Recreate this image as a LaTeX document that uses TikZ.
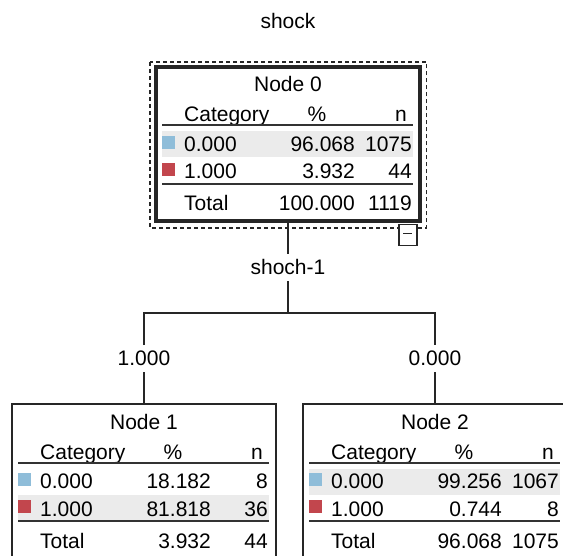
\documentclass[tikz,border=0pt]{standalone}
\usepackage{fontspec}
\setmainfont{Liberation Sans}
\usetikzlibrary{positioning,calc}

\definecolor{catblue}{HTML}{8FBDD9}
\definecolor{catred}{HTML}{C2464D}
\definecolor{rowgray}{HTML}{EBEBEB}

% box name, title, shaded band, two category rows, total row
\newcommand{\nodetable}[9]{%
  \begin{scope}[shift={(#1.north west)}]
    \fill[rowgray] (6,#3) rectangle +(251,26);
    \node[txt, anchor=base] (#1-title) at (132,25) {#2};
    \node[txt, anchor=base west] (#1-cat) at (28,55) {Category};
    \node[txt, anchor=base] (#1-pct) at (161,55) {\%};
    \node[txt, anchor=base east] (#1-n) at (251,55) {n};
    \draw[rule] (6,58.5) -- (257,58.5);
    \fill[catblue] (6,69) rectangle (18.5,82);
    \node[txt, anchor=base west] (#1-c0) at (28,85) {0.000};
    \node[txt, anchor=base east] (#1-p0) at (199,85) {#4};
    \node[txt, anchor=base east] (#1-n0) at (256,85) {#5};
    \fill[catred] (6,96) rectangle (18.5,109);
    \node[txt, anchor=base west] (#1-c1) at (28,112) {1.000};
    \node[txt, anchor=base east] (#1-p1) at (199,112) {#6};
    \node[txt, anchor=base east] (#1-n1) at (256,112) {#7};
    \draw[rule] (6,117) -- (257,117);
    \node[txt, anchor=base west] (#1-tl) at (28,144) {Total};
    \node[txt, anchor=base east] (#1-pt) at (199,144) {#8};
    \node[txt, anchor=base east] (#1-nt) at (256,144) {#9};
  \end{scope}}

\begin{document}
\begin{tikzpicture}[x=1pt, y=-1pt,
    txt/.style={inner sep=0pt, font=\fontsize{21}{25}\selectfont},
    lbl/.style={inner sep=6pt, anchor=base, font=\fontsize{21}{25}\selectfont},
    box/.style={draw=black!85, line width=1.5pt, minimum width=264pt, minimum height=154pt, inner sep=0pt, outer sep=0pt, anchor=north west},
    rootbox/.style={box, line width=4pt},
    rule/.style={draw=black!80, line width=2pt},
    link/.style={draw=black!85, line width=1.3pt},
    selbox/.style={draw=black!85, line width=1.3pt, dash pattern=on 4pt off 3pt}]
  \useasboundingbox (0,0) rectangle (563,556);
  \clip (0,0) rectangle (563,556);

  \node[lbl] (title) at (288,29) {shock};

  \node[rootbox] (n0) at (156,67) {};
  \draw[selbox] ($(n0.north west)+(-6,-5)$) rectangle ($(n0.south east)+(6.5,7)$);
  \node[draw=black!85, fill=white, line width=1.3pt, minimum width=18pt, minimum height=21pt, inner sep=0pt, anchor=north east] (n0-toggle) at ($(n0.south east)+(-2.5,3)$) {};
  \draw[link] ($(n0-toggle.center)+(-4.5,-1.5)$) -- ($(n0-toggle.center)+(4.5,-1.5)$);

  \node[box] (n1) at (12,404) {};
  \node[box] (n2) at (303,404) {};

  \nodetable{n0}{Node 0}{64.5}{96.068}{1075}{3.932}{44}{100.000}{1119}
  \nodetable{n1}{Node 1}{91}{18.182}{8}{81.818}{36}{3.932}{44}
  \nodetable{n2}{Node 2}{64.5}{99.256}{1067}{0.744}{8}{96.068}{1075}

  \node[lbl] (split) at (288,275) {shoch-1};
  \node[lbl] (b1) at (144,366) {1.000};
  \node[lbl] (b2) at (435,366) {0.000};
  \coordinate (fork) at (288,313);

  \draw[link] (n0.south) -- (split.north);
  \draw[link] (split.south) -- (fork);
  \draw[link] (b1.north) |- (fork) -| (b2.north);
  \draw[link] (b1.south) -- (n1.north);
  \draw[link] (b2.south) -- (n2.north);
\end{tikzpicture}
\end{document}
